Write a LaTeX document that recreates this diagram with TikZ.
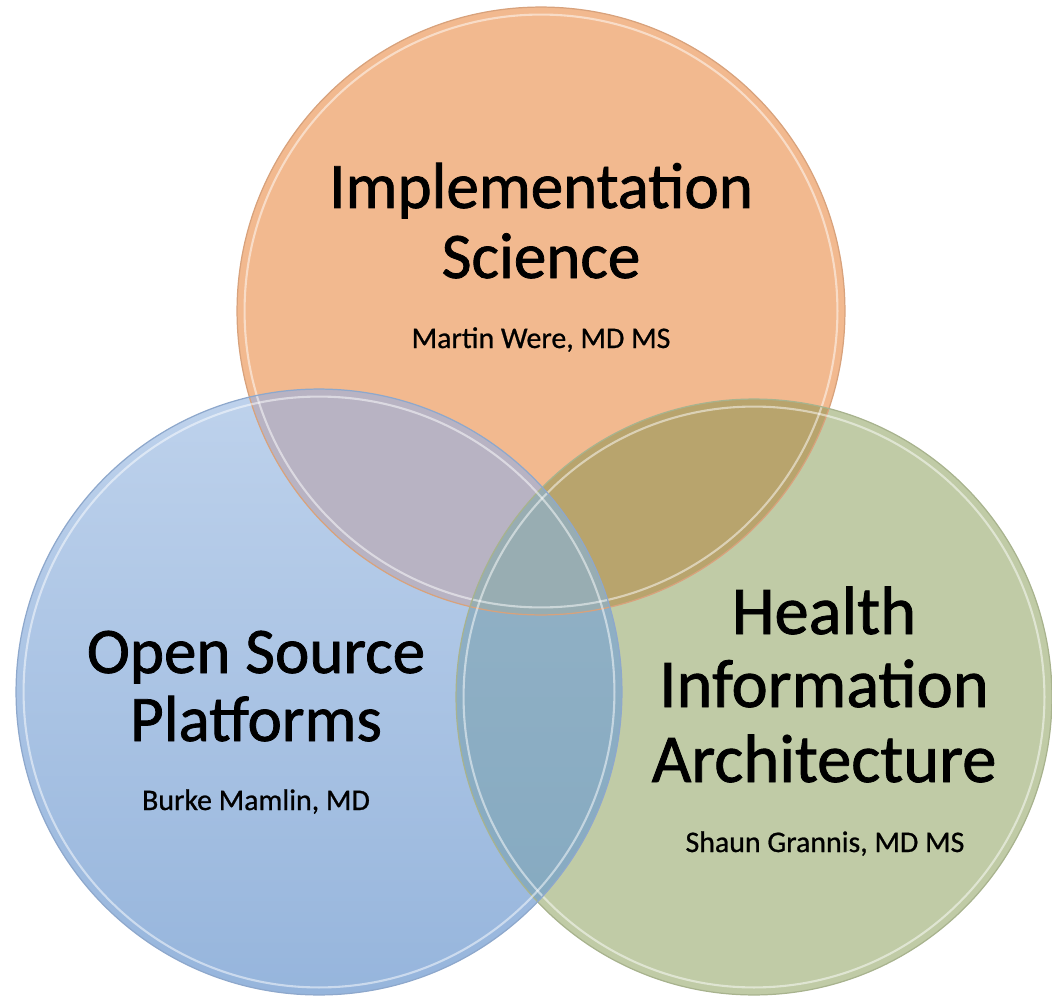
\documentclass[tikz,border=0pt]{standalone}
\usepackage{fontspec}
\setmainfont{Carlito}[FakeBold=1.2]
\newfontfamily\personfont{Carlito}[FakeBold=0.8]
\usetikzlibrary{calc}
\definecolor{orangefill}{HTML}{F2B98F}
\definecolor{orangerim}{HTML}{D8A27C}
\definecolor{bluetop}{HTML}{BED2EC}
\definecolor{bluebot}{HTML}{96B5DC}
\definecolor{bluerim}{HTML}{8EA8CC}
\definecolor{greenfill}{HTML}{C0CBA6}
\definecolor{greenrim}{HTML}{A8B38E}
\definecolor{obfill}{HTML}{B8B3C3}
\definecolor{ogfill}{HTML}{B8A46D}
\definecolor{bgtop}{HTML}{95B3C7}
\definecolor{bgbot}{HTML}{84A9C0}
\definecolor{obgfill}{HTML}{98ADB2}
\tikzset{
  title/.style={anchor=base, inner sep=0pt, font=\fontsize{37}{40}\selectfont},
  bigtitle/.style={anchor=base, inner sep=0pt, font=\fontsize{39}{42}\selectfont},
  person/.style={anchor=base, inner sep=0pt, font=\personfont\fontsize{17}{20}\selectfont},
  rim/.style={draw=#1, line width=0.7pt},
  shine/.style={draw=white, opacity=0.5, line width=1.2pt}
}

\begin{document}
\begin{tikzpicture}[x=0.02cm, y=-0.02cm]
        \useasboundingbox (0,0) rectangle (1052,997);
        %circles
        \coordinate (impl) at (541,311);
        \coordinate (open) at (319,692);
        \coordinate (hia) at (754,697);
        \fill[orangefill] (impl) circle (6.08cm);
        \fill[greenfill] (hia) circle (5.96cm);
        \shade[top color=bluetop, bottom color=bluebot] (open) circle (6.06cm);
        %overlaps
        \begin{scope}
                \clip (open) circle (6.06cm);
                \shade[top color=bgtop, bottom color=bgbot] (hia) circle (5.96cm);
        \end{scope}
        \begin{scope}
                \clip (impl) circle (6.08cm);
                \fill[ogfill] (hia) circle (5.96cm);
                \fill[obfill] (open) circle (6.06cm);
                \clip (open) circle (6.06cm);
                \fill[obgfill] (hia) circle (5.96cm);
        \end{scope}
        %rims
        \foreach \c/\r/\col in {impl/6.08/orangerim, hia/5.96/greenrim, open/6.06/bluerim}{
                \draw[rim=\col] (\c) circle [radius=\r cm];
                \draw[shine] (\c) circle [radius={(\r-0.15)*1cm}];
        }
        %labels
        \node[title] (implA) at (541,208) {Implementation};
        \node[title] (implB) at (541,278) {Science};
        \node[person] (implname) at (541,348) {Martin Were, MD MS};
        \node[title] (openA) at (256,673) {Open Source};
        \node[title] (openB) at (256,741) {Platforms};
        \node[person] (openname) at (256,810) {Burke Mamlin, MD};
        \node[bigtitle] (hiaA) at (824,634) {Health};
        \node[bigtitle] (hiaB) at (824,707) {Information};
        \node[bigtitle] (hiaC) at (824,782) {Architecture};
        \node[person] (hianame) at (825,852) {Shaun Grannis, MD MS};
\end{tikzpicture}
\end{document}
